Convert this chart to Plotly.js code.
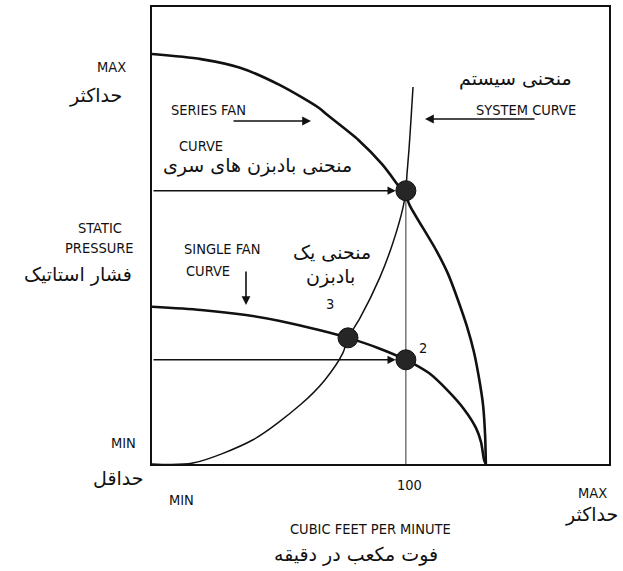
<!DOCTYPE html>
<html><head><meta charset="utf-8">
<script src="https://cdn.plot.ly/plotly-3.0.1.min.js"></script>
<style>html,body{margin:0;padding:0;background:#fff;} #chart{width:623px;height:571px;}</style>
</head><body><div id="chart"></div>
<script>
// x: air flow (CFM, 100 = design flow), y: static pressure (% of max)
const seriesFanX = [0, 19.3, 34.7, 50.4, 65.8, 69.0, 81.3, 90.6, 96.5, 100, 101.6, 111.9, 116.6, 120.5, 124.1, 126.8, 128.8, 130.4, 131.2, 131.5];
const seriesFanY = [89.7, 88.6, 86.7, 82.9, 77.9, 76.4, 70.9, 65.6, 61.3, 58.6, 56.5, 46.8, 41.6, 35.9, 30.0, 24.5, 18.8, 12.9, 6.3, 0];
const singleFanX = [0, 19.3, 37.0, 50.4, 65.8, 77.2, 89.0, 100, 109.1, 116.6, 122.9, 127.6, 129.6, 130.8, 131.5];
const singleFanY = [34.4, 33.7, 32.6, 31.3, 29.3, 27.6, 25.4, 22.8, 19.9, 16.0, 12.0, 7.9, 4.8, 0.9, 0];
const systemX = [0, 16.1, 39.8, 58.3, 68.1, 75.2, 77.2, 81.9, 89.8, 94.9, 98.9, 100, 100.4, 101.2, 102.0, 102.8];
const systemY = [0, 0.2, 5.3, 12.9, 18.4, 24.3, 27.6, 31.9, 40.9, 48.4, 56.2, 59.8, 63.2, 68.7, 75.3, 82.5];
const pointX = [100, 100, 77.2];
const pointY = [59.8, 22.8, 27.6];
const pointNames = ['1', '2', '3'];
const xTickLabels = ['MIN', '100', 'MAX'];
const yTickLabels = ['MAX', 'MIN'];

const EN = 'Liberation Sans Narrow, DejaVu Sans Condensed, Liberation Sans, Arial, sans-serif';
const FA = 'DejaVu Sans, Noto Sans, sans-serif';
const ENS = 14.5, FAS = 19;
const L = 152, T = 7, W = 457, H = 457;
function P(px, py){ return {x:(px-L)/W, y:(T+H-py)/H}; }
function txt(s, px, py, size, fam){
  const p = P(px, py);
  return {xref:'paper', yref:'paper', x:p.x, y:p.y, text:s, showarrow:false,
          xanchor:'center', yanchor:'middle', font:{family:fam, size:size, color:'#111'}};
}
function arrowPx(tipX, tipY, fromX, fromY){
  const p = P(tipX, tipY);
  return {xref:'paper', yref:'paper', x:p.x, y:p.y, ax:fromX-tipX, ay:fromY-tipY,
          text:'', showarrow:true, arrowhead:2, arrowsize:1.1, arrowwidth:1.6, arrowcolor:'#111'};
}

const traces = [
  {x:seriesFanX, y:seriesFanY, mode:'lines', line:{color:'#111', width:2.6, shape:'spline', smoothing:0.8}, hoverinfo:'skip'},
  {x:singleFanX, y:singleFanY, mode:'lines', line:{color:'#111', width:2.6, shape:'spline', smoothing:0.8}, hoverinfo:'skip'},
  {x:systemX, y:systemY, mode:'lines', line:{color:'#111', width:1.5, shape:'spline', smoothing:0.8}, hoverinfo:'skip'},
  {x:[pointX[0], pointX[0]], y:[0, pointY[0]], mode:'lines', line:{color:'#333', width:1}, hoverinfo:'skip'},
  {x:pointX, y:pointY, mode:'markers', marker:{size:20, color:'#262626', line:{color:'#111', width:1}}, hoverinfo:'skip'}
];

const dotTipOffset = 4; // data units left of the dot centre
const annotations = [
  {xref:'x', yref:'y', axref:'x', ayref:'y', x:pointX[0]-dotTipOffset, y:pointY[0], ax:0, ay:pointY[0],
   text:'', showarrow:true, arrowhead:2, arrowsize:1.1, arrowwidth:1.5, arrowcolor:'#111'},
  {xref:'x', yref:'y', axref:'x', ayref:'y', x:pointX[1]-dotTipOffset, y:pointY[1], ax:0, ay:pointY[1],
   text:'', showarrow:true, arrowhead:2, arrowsize:1.1, arrowwidth:1.5, arrowcolor:'#111'},
  arrowPx(311, 121, 232, 121),
  arrowPx(425, 119, 536, 119),
  arrowPx(246, 305, 246, 270),
  txt(yTickLabels[0], 111, 67, ENS, EN),
  txt('SERIES FAN', 208, 110, ENS, EN),
  txt('CURVE', 201, 146, ENS, EN),
  txt('SYSTEM CURVE', 526, 110, ENS, EN),
  txt('STATIC', 100, 228, ENS, EN),
  txt('PRESSURE', 99, 248, ENS, EN),
  txt('SINGLE FAN', 222, 249, ENS, EN),
  txt('CURVE', 208, 271, ENS, EN),
  txt(pointNames[2], 330, 304, ENS, EN),
  txt(pointNames[1], 423, 348, ENS, EN),
  txt(yTickLabels[1], 123, 443, ENS, EN),
  txt(xTickLabels[1], 409, 485, ENS, EN),
  txt(xTickLabels[0], 181, 500, ENS, EN),
  txt(xTickLabels[2], 592, 493, ENS, EN),
  txt('CUBIC FEET PER MINUTE', 370, 529, ENS, EN),
  txt('حداکثر', 95, 96, FAS, FA),
  txt('منحنی بادبزن های سری', 257, 166, FAS, FA),
  txt('منحنی سیستم', 515, 79, FAS, FA),
  txt('فشار استاتیک', 78, 274, FAS, FA),
  txt('منحنی یک', 332, 252, FAS, FA),
  txt('بادبزن', 330, 276, FAS, FA),
  txt('حداقل', 118, 478, FAS, FA),
  txt('حداکثر', 591, 514, FAS, FA),
  txt('فوت مکعب در دقیقه', 356, 554, FAS, FA)
];

const axisBase = {showline:true, mirror:true, linecolor:'#111', linewidth:1.6, showgrid:false,
                  zeroline:false, showticklabels:false, ticks:'', fixedrange:true};
const layout = {
  width:623, height:571, margin:{l:L, r:623-L-W, t:T, b:571-T-H},
  paper_bgcolor:'#fff', plot_bgcolor:'#fff', showlegend:false,
  xaxis:Object.assign({range:[0,180]}, axisBase),
  yaxis:Object.assign({range:[0,100]}, axisBase),
  annotations:annotations
};
Plotly.newPlot('chart', traces, layout, {displayModeBar:false, staticPlot:true});
</script></body></html>
